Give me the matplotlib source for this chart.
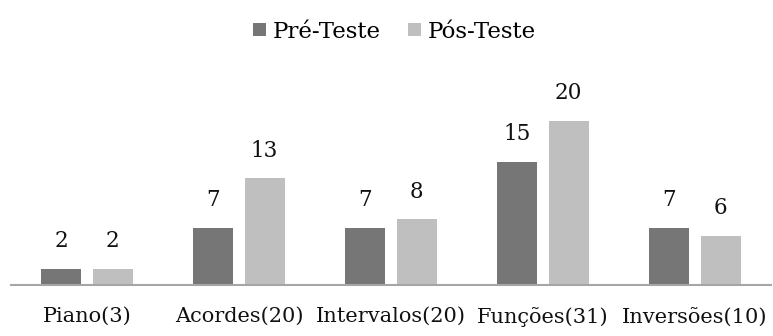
import numpy as np
import matplotlib.pyplot as plt

categories = ['Piano(3)', 'Acordes(20)', 'Intervalos(20)', 'Funções(31)', 'Inversões(10)']
pre_teste = [2, 7, 7, 15, 7]
pos_teste = [2, 13, 8, 20, 6]
series_names = ['Pré-Teste', 'Pós-Teste']

plt.rcParams['font.family'] = ['DejaVu Serif']

fig = plt.figure(figsize=(7.73, 3.36), dpi=100)
ax = fig.add_axes([11 / 773, 51 / 336, 760 / 773, 225 / 336])

x = np.arange(len(categories))
width = 0.263
offset = 0.168

bars_pre = ax.bar(x - offset, pre_teste, width, color='#767676', label=series_names[0])
bars_pos = ax.bar(x + offset, pos_teste, width, color='#bfbfbf', label=series_names[1])

for bars in (bars_pre, bars_pos):
    for b in bars:
        ax.annotate(f'{int(b.get_height())}', (b.get_x() + b.get_width() / 2, b.get_height()),
                    xytext=(0, 12), textcoords='offset points', ha='center', va='bottom',
                    fontsize=15.5, color='#111111')

ax.set_xlim(-0.5, len(categories) - 0.5)
ax.set_ylim(0, 225 / 8.2)
ax.set_xticks(x)
ax.set_xticklabels(categories, fontsize=15, color='#111111')
ax.tick_params(axis='x', length=0, pad=16)
ax.set_yticks([])
for side in ('top', 'right', 'left'):
    ax.spines[side].set_visible(False)
ax.spines['bottom'].set_color('#a6a6a6')
ax.spines['bottom'].set_linewidth(1.5)

fig.legend(handles=[bars_pre, bars_pos], labels=series_names, loc='upper center',
           bbox_to_anchor=(0.51, 1.0), ncol=2, frameon=False, fontsize=16.5,
           handlelength=0.55, handleheight=0.55, handletextpad=0.3, columnspacing=1.2)

fig.savefig('out.png', dpi=100)
